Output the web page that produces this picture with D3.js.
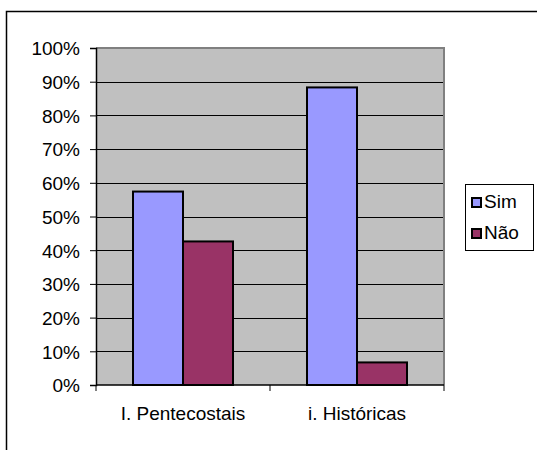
<!DOCTYPE html>
<html><head><meta charset="utf-8">
<script src="https://cdn.jsdelivr.net/npm/d3@7"></script>
<style>body{margin:0;background:#fff}svg{display:block}text{font-family:"Liberation Sans",Arial,sans-serif;fill:#000}</style>
</head><body><svg id="c" width="537" height="450"></svg>
<script>
const categories = ["I. Pentecostais", "i. Históricas"];
const seriesNames = ["Sim", "Não"];
const simValues = [57.4, 88.3];
const naoValues = [42.6, 6.7];
const yTicks = [0,10,20,30,40,50,60,70,80,90,100];
const colors = ["#9999FF", "#993366"];
const FS = "19px";

const svg = d3.select("#c");
// outer chart border (cropped at right and bottom)
svg.append("path").attr("d","M6.5,460 L6.5,11.5 L560,11.5").attr("fill","none").attr("stroke","#000").attr("stroke-width",1.5);

const L=96, R=444, T=48, B=385;
const x = d3.scaleBand().domain(categories).range([L,R]);
const y = d3.scaleLinear().domain([0,100]).range([B,T]);
const xs = d3.scaleBand().domain(seriesNames).range([0,100]);

svg.append("rect").attr("x",L).attr("y",T).attr("width",R-L).attr("height",B-T).attr("fill","#C0C0C0");
// gridlines
svg.append("g").selectAll("line").data(yTicks.filter(d=>d>0)).join("line")
  .attr("x1",L).attr("x2",R).attr("y1",d=>Math.round(y(d))+0.5).attr("y2",d=>Math.round(y(d))+0.5)
  .attr("stroke","#000").attr("stroke-width",1);
// plot border top/right gray
svg.append("path").attr("d",`M${L},${T} L${R},${T} L${R},${B}`).attr("fill","none").attr("stroke","#808080").attr("stroke-width",2);

const data = categories.map((c,i)=>({cat:c, vals:[simValues[i], naoValues[i]]}));
const g = svg.append("g");
data.forEach(d=>{
  const cx = x(d.cat)+x.bandwidth()/2 - 50;
  g.selectAll(null).data(d.vals).join("rect")
    .attr("x",(v,j)=>cx+xs(seriesNames[j]))
    .attr("y",v=>y(v))
    .attr("width",xs.bandwidth())
    .attr("height",v=>B-y(v))
    .attr("fill",(v,j)=>colors[j])
    .attr("stroke","#000").attr("stroke-width",2);
});

// y axis
const ya = d3.axisLeft(y).tickValues(yTicks).tickFormat(d=>d+"%").tickSize(6).tickPadding(10);
const yg = svg.append("g").attr("transform",`translate(${L},0)`).call(ya);
yg.attr("font-family",null).attr("font-size",null);
yg.select(".domain").attr("stroke","#000").attr("stroke-width",1.5);
yg.selectAll(".tick line").attr("stroke","#000");
yg.selectAll("text").style("font-size",FS).attr("dy","0.36em");

// x axis
const xa = d3.axisBottom(x).tickSize(0).tickPadding(0);
const xg = svg.append("g").attr("transform",`translate(0,${B})`).call(xa);
xg.attr("font-family",null).attr("font-size",null);
xg.select(".domain").remove();
xg.selectAll("text").style("font-size",FS).attr("y",35).attr("dy","0");
// x axis line with boundary ticks
svg.append("line").attr("x1",L).attr("x2",R).attr("y1",B).attr("y2",B).attr("stroke","#000").attr("stroke-width",1.5);
svg.append("g").selectAll("line").data([L, L+x.bandwidth(), R]).join("line")
  .attr("x1",d=>d).attr("x2",d=>d).attr("y1",B).attr("y2",B+6).attr("stroke","#000");

// legend
const lg = svg.append("g");
lg.append("rect").attr("x",465.5).attr("y",184.5).attr("width",68).attr("height",66).attr("fill","#fff").attr("stroke","#000").attr("stroke-width",1);
seriesNames.forEach((s,i)=>{
  const yy = 198 + i*31;
  lg.append("rect").attr("x",472).attr("y",yy).attr("width",9).attr("height",9).attr("fill",colors[i]).attr("stroke","#000").attr("stroke-width",2);
  lg.append("text").attr("x",484).attr("y",yy+10).style("font-size",FS).text(s);
});
</script></body></html>
